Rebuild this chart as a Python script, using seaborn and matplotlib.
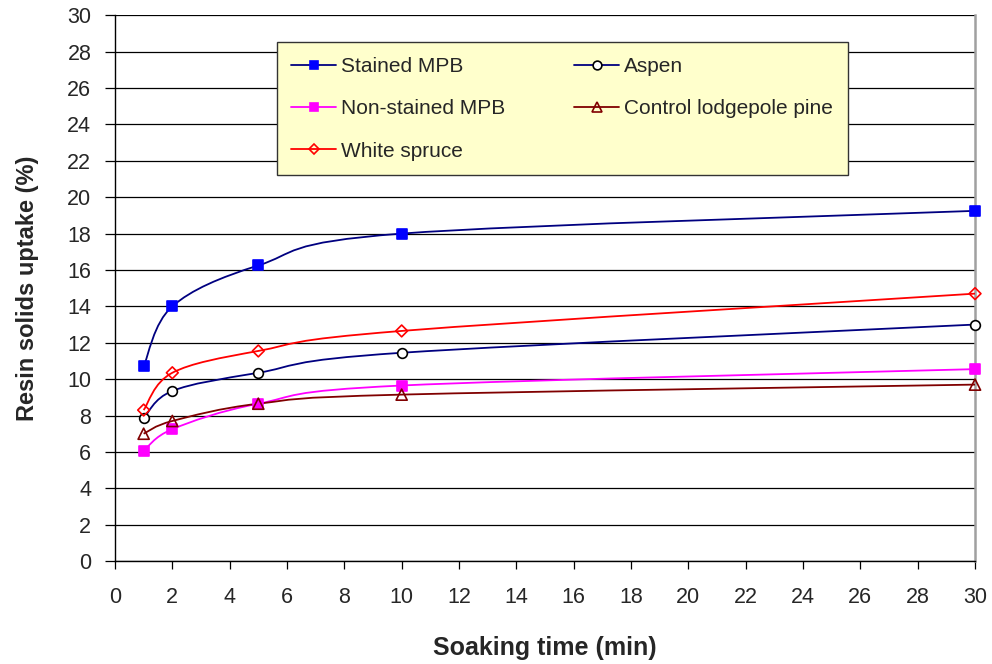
import numpy as np
import pandas as pd
import seaborn as sns
import matplotlib
matplotlib.use('Agg')
import matplotlib.pyplot as plt
from matplotlib.path import Path
from matplotlib.patches import PathPatch
from matplotlib.lines import Line2D

# data
soak_time = [1, 2, 5, 10, 30]
stained_mpb = [10.7, 14.0, 16.25, 18.0, 19.25]
aspen = [7.85, 9.35, 10.35, 11.45, 13.0]
non_stained_mpb = [6.05, 7.25, 8.65, 9.65, 10.55]
control_pine = [7.0, 7.7, 8.65, 9.15, 9.7]
white_spruce = [8.3, 10.35, 11.55, 12.65, 14.7]

series = {
    'Stained MPB': stained_mpb,
    'Aspen': aspen,
    'Non-stained MPB': non_stained_mpb,
    'Control lodgepole pine': control_pine,
    'White spruce': white_spruce,
}

# line colour, marker, marker face, marker edge, marker size
styles = {
    'Stained MPB': ('#000080', 's', '#0000FF', '#0000FF', 7),
    'Aspen': ('#000080', 'o', 'white', 'black', 7),
    'Non-stained MPB': ('#FF00FF', 's', '#FF00FF', '#FF00FF', 7),
    'Control lodgepole pine': ('#800000', '^', 'none', '#800000', 8),
    'White spruce': ('#FF0000', 'D', 'none', '#FF0000', 6),
}


def smooth_path(x, y):
    '''Excel-like smoothed line: cubic bezier segments through the points.'''
    pts = np.column_stack([x, y]).astype(float)
    n = len(pts)
    verts = [pts[0]]
    codes = [Path.MOVETO]
    for i in range(n - 1):
        p0 = pts[i - 1] if i > 0 else pts[i]
        p1 = pts[i]
        p2 = pts[i + 1]
        p3 = pts[i + 2] if i + 2 < n else pts[i + 1]
        c1 = p1 + (p2 - p0) / 6.0
        c2 = p2 - (p3 - p1) / 6.0
        verts += [c1, c2, p2]
        codes += [Path.CURVE4] * 3
    return Path(verts, codes)


sns.set_style('white')
plt.rcParams['font.family'] = ['Liberation Sans', 'DejaVu Sans']

fig = plt.figure(figsize=(9.92, 6.64), dpi=100)
ax = fig.add_axes([0.1159, 0.155, 0.867, 0.822])

df = pd.DataFrame([
    {'time': t, 'uptake': v, 'wood': name}
    for name, vals in series.items() for t, v in zip(soak_time, vals)
])

for name in series:
    lc, mk, fc, ec, ms = styles[name]
    sub = df[df['wood'] == name]
    ax.add_patch(PathPatch(smooth_path(sub['time'], sub['uptake']),
                           facecolor='none', edgecolor=lc, lw=1.3, zorder=3))
    sns.scatterplot(data=sub, x='time', y='uptake', marker=mk, s=ms ** 2,
                    color=fc, edgecolor=ec, linewidth=1.2, ax=ax, zorder=4,
                    clip_on=False, legend=False)

ax.set_xlim(0, 30)
ax.set_ylim(0, 30)
ax.set_xticks(range(0, 31, 2))
ax.set_yticks(range(0, 31, 2))
ax.yaxis.grid(True, color='black', lw=0.9)
ax.set_axisbelow(True)

for s in ['left', 'bottom']:
    ax.spines[s].set_color('black')
    ax.spines[s].set_linewidth(1.0)
ax.spines['top'].set_visible(False)
ax.spines['right'].set_color('#a0a0a0')
ax.spines['right'].set_linewidth(1.8)

ax.tick_params(axis='x', direction='out', length=6, width=0.9, pad=13,
               labelsize=15.5, bottom=True, color='black')
ax.tick_params(axis='y', direction='out', length=7, width=0.9, pad=10,
               labelsize=15.5, left=True, color='black')

ax.set_xlabel('Soaking time (min)', fontsize=18, fontweight='bold', labelpad=20)
ax.set_ylabel('Resin solids uptake (%)', fontsize=17, fontweight='bold', labelpad=20)

order = ['Stained MPB', 'Non-stained MPB', 'White spruce', 'Aspen', 'Control lodgepole pine']
handles = []
for name in order:
    lc, mk, fc, ec, ms = styles[name]
    handles.append(Line2D([], [], color=lc, lw=1.3, marker=mk, markersize=ms * 0.9,
                          markerfacecolor=fc, markeredgecolor=ec, markeredgewidth=1.2))
leg = ax.legend(handles, order, ncol=2, loc='upper left',
                bbox_to_anchor=(0.188, 0.9505, 0.664, 0.0), mode='expand',
                fontsize=15, frameon=True, fancybox=False, framealpha=1,
                handlelength=2.15, handletextpad=0.25, labelspacing=1.12,
                borderpad=0.7, borderaxespad=0)
leg.get_frame().set_facecolor('#FFFFCC')
leg.get_frame().set_edgecolor('#333333')
leg.get_frame().set_linewidth(1.0)

fig.savefig('out.png', dpi=100)
